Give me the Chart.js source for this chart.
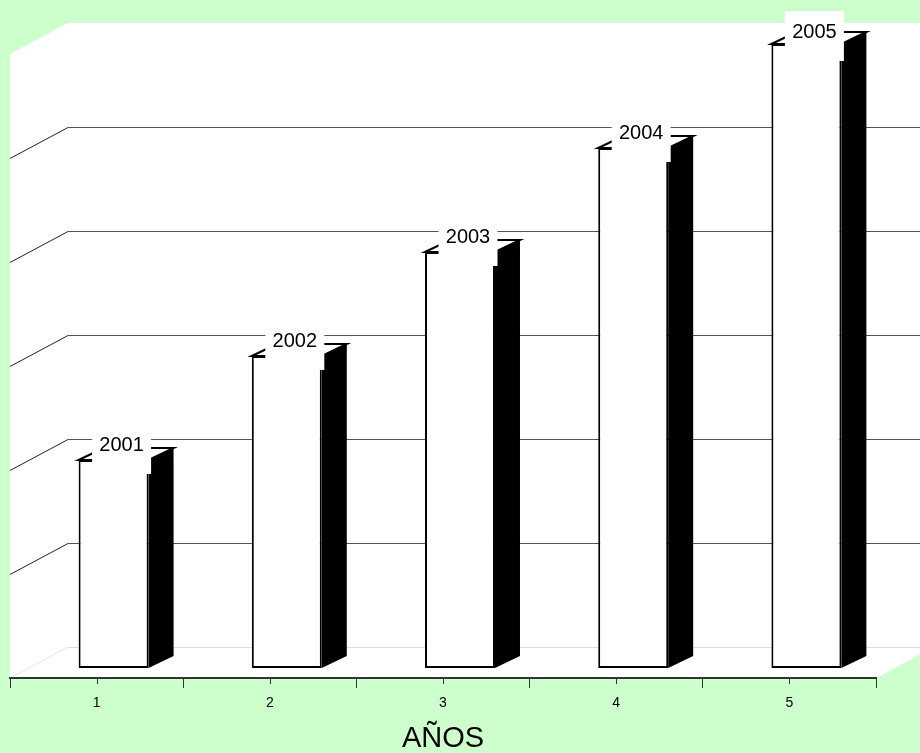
<!DOCTYPE html>
<html>
<head>
<meta charset="utf-8">
<script src="https://cdn.jsdelivr.net/npm/chart.js@4/dist/chart.umd.min.js"></script>
<style>
  html, body { margin: 0; padding: 0; background: #ccffcc; }
  canvas { display: block; }
</style>
</head>
<body>
<canvas id="chart" width="920" height="753"></canvas>
<script>
// Category axis (years numbered 1..5) and the value drawn for each bar
const categories = ['1', '2', '3', '4', '5'];
const values = [2001, 2002, 2003, 2004, 2005];
const valueLabels = ['2001', '2002', '2003', '2004', '2005'];
const axisMin = 1999;
const axisMax = 2005;
const axisStep = 1;
const axisTitle = 'AÑOS';

// Oblique projection used for the walls and the bar solids
const WALL_DX = 58, WALL_DY = 31;   // full depth of the floor
const BAR_DX = 17, BAR_DY = 10;     // where the bar row sits inside that depth
const SIDE_DX = 25, SIDE_DY = 12;   // thickness of each bar

const FONT = '"Liberation Sans", Arial, Helvetica, sans-serif';

const walls3d = {
  id: 'walls3d',
  beforeDraw(chart) {
    const { ctx, chartArea: a, scales: { y } } = chart;
    const W = chart.width;
    ctx.save();
    ctx.fillStyle = '#ccffcc';
    ctx.fillRect(0, 0, W, chart.height);

    // left wall + back wall + floor, all white
    const rightEdgeY = a.bottom - (W - a.right) * WALL_DY / WALL_DX;
    ctx.fillStyle = '#ffffff';
    ctx.beginPath();
    ctx.moveTo(a.left, a.top);
    ctx.lineTo(a.left + WALL_DX, a.top - WALL_DY);
    ctx.lineTo(W, a.top - WALL_DY);
    ctx.lineTo(W, rightEdgeY);
    ctx.lineTo(a.right, a.bottom);
    ctx.lineTo(a.left, a.bottom);
    ctx.closePath();
    ctx.fill();

    // floor edges (light)
    const yFloor = y.getPixelForValue(axisMin);
    ctx.strokeStyle = '#dddddd';
    ctx.lineWidth = 1;
    ctx.beginPath();
    ctx.moveTo(a.left + WALL_DX, yFloor - WALL_DY + 0.5);
    ctx.lineTo(W, yFloor - WALL_DY + 0.5);
    ctx.stroke();
    ctx.setLineDash([2, 1]);
    ctx.beginPath();
    ctx.moveTo(a.left, yFloor);
    ctx.lineTo(a.left + WALL_DX, yFloor - WALL_DY);
    ctx.stroke();
    ctx.setLineDash([]);

    // gridlines on the back wall and the left wall
    for (let v = axisMin + axisStep; v < axisMax; v += axisStep) {
      const py = Math.round(y.getPixelForValue(v)) + 0.5;
      ctx.strokeStyle = '#555555';
      ctx.beginPath();
      ctx.moveTo(a.left + WALL_DX, py - WALL_DY);
      ctx.lineTo(W, py - WALL_DY);
      ctx.stroke();
      ctx.strokeStyle = '#222222';
      ctx.beginPath();
      ctx.moveTo(a.left, py);
      ctx.lineTo(a.left + WALL_DX, py - WALL_DY);
      ctx.stroke();
    }
    ctx.restore();
  }
};

const bars3d = {
  id: 'bars3d',
  beforeDatasetsDraw(chart) {
    const { ctx } = chart;
    ctx.save();
    ctx.translate(BAR_DX, -BAR_DY);
    chart.getDatasetMeta(0).data.forEach(el => {
      const { x, y, base, width } = el.getProps(['x', 'y', 'base', 'width'], true);
      const xl = x - width / 2, xr = x + width / 2;
      // side face
      ctx.fillStyle = '#000000';
      ctx.beginPath();
      ctx.moveTo(xr, y);
      ctx.lineTo(xr + SIDE_DX, y - SIDE_DY);
      ctx.lineTo(xr + SIDE_DX, base - SIDE_DY);
      ctx.lineTo(xr, base);
      ctx.closePath();
      ctx.fill();
      // top face
      ctx.fillStyle = '#ffffff';
      ctx.strokeStyle = '#000000';
      ctx.lineWidth = 2;
      ctx.beginPath();
      ctx.moveTo(xl, y);
      ctx.lineTo(xl + SIDE_DX, y - SIDE_DY);
      ctx.lineTo(xr + SIDE_DX, y - SIDE_DY);
      ctx.lineTo(xr, y);
      ctx.closePath();
      ctx.fill();
      ctx.stroke();
    });
    // the front faces are drawn by Chart.js inside this same translation
  },
  afterDatasetsDraw(chart) {
    const { ctx } = chart;
    ctx.restore();

    // value labels on white boxes
    ctx.save();
    ctx.font = '20px ' + FONT;
    ctx.textAlign = 'center';
    ctx.textBaseline = 'middle';
    chart.getDatasetMeta(0).data.forEach((el, i) => {
      const { x, y } = el.getProps(['x', 'y'], true);
      const tx = x + BAR_DX + 8;
      const ty = Math.max(y - BAR_DY - 15, 32);
      ctx.fillStyle = '#ffffff';
      ctx.fillRect(tx - 29.5, ty - 21, 59, 50);
      ctx.fillStyle = '#000000';
      ctx.fillText(valueLabels[i], tx, ty);
    });
    ctx.restore();
  },
  afterDraw(chart) {
    // short ticks at the category centres
    const { ctx, chartArea: a, scales: { x } } = chart;
    ctx.save();
    ctx.strokeStyle = '#333333';
    ctx.lineWidth = 1;
    categories.forEach((c, i) => {
      const px = Math.round(x.getPixelForValue(i)) + 0.5;
      ctx.beginPath();
      ctx.moveTo(px, a.bottom);
      ctx.lineTo(px, a.bottom + 6);
      ctx.stroke();
    });
    ctx.restore();
  }
};

new Chart(document.getElementById('chart'), {
  type: 'bar',
  data: {
    labels: categories,
    datasets: [{
      data: values,
      base: axisMin,
      backgroundColor: '#ffffff',
      borderColor: '#000000',
      borderWidth: 2,
      borderSkipped: false,
      categoryPercentage: 1,
      barPercentage: 0.404,
      clip: false
    }]
  },
  options: {
    responsive: false,
    animation: false,
    layout: { padding: { left: 10, right: 44, top: 54, bottom: 0 } },
    plugins: { legend: { display: false }, tooltip: { enabled: false } },
    scales: {
      y: {
        display: false,
        min: axisMin,
        max: axisMax,
        ticks: { stepSize: axisStep }
      },
      x: {
        offset: true,
        afterFit(scale) { scale.height = 75; },
        grid: {
          offset: true,
          drawOnChartArea: false,
          drawTicks: true,
          tickLength: 10,
          color: '#333333',
          lineWidth: 1
        },
        border: { display: true, color: '#333333', width: 2 },
        ticks: {
          color: '#000000',
          padding: 7,
          font: { family: FONT, size: 14 }
        },
        title: {
          display: true,
          text: axisTitle,
          color: '#000000',
          font: { family: FONT, size: 29, lineHeight: 1 },
          padding: { top: 0, bottom: 0 }
        }
      }
    }
  },
  plugins: [walls3d, bars3d]
});
</script>
</body>
</html>
